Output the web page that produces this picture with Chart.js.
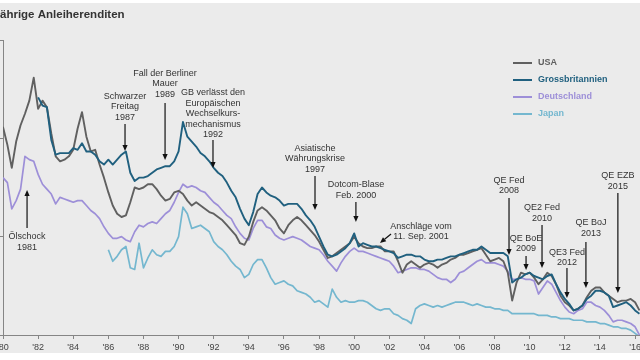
<!DOCTYPE html>
<html lang="de">
<head>
<meta charset="utf-8">
<title>Anleiherenditen</title>
<script src="https://cdn.jsdelivr.net/npm/chart.js@4.4.1/dist/chart.umd.min.js"></script>
<style>
  html, body { margin: 0; padding: 0; background: #fff; }
  canvas { display: block; }
</style>
</head>
<body>
<canvas id="yieldChart" width="640" height="360"></canvas>
<script>
// ============================================
// DATA
// ============================================

// quarterly readings, yields in percent
const STEP = 0.25;
const USA_START = 1980;
const UK_START = 1982;
const GERMANY_START = 1980;
const JAPAN_START = 1986;

const X_TICKS = [1980, 1982, 1984, 1986, 1988, 1990, 1992, 1994, 1996, 1998,
  2000, 2002, 2004, 2006, 2008, 2010, 2012, 2014, 2016];
const Y_TICKS = [0, 6, 12, 18];

const usaYields = [
  12.7, 11.6, 10.2, 11.8, 12.8, 13.5, 14.3, 15.7, 13.8, 14.3,
  13.9, 12.3, 10.9, 10.6, 10.7, 10.9, 11.3, 12.6, 13.6, 12.1,
  11.2, 11.3, 10.4, 9.6, 8.7, 7.9, 7.4, 7.2, 7.3, 8.1,
  9.0, 8.9, 9.0, 9.2, 9.2, 8.9, 8.5, 8.2, 8.3, 8.7,
  8.8, 8.6, 8.2, 7.9, 8.1, 7.9, 7.7, 7.5, 7.4, 7.2,
  7.0, 6.7, 6.4, 6.1, 5.6, 5.5, 6.0, 6.9, 7.6, 7.8,
  7.6, 7.3, 7.0, 6.5, 6.2, 6.7, 7.0, 7.2, 7.0, 6.7,
  6.4, 6.1, 5.7, 5.2, 4.7, 4.8, 5.0, 5.2, 5.4, 5.6,
  6.0, 5.6, 5.4, 5.3, 5.3, 5.4, 5.4, 5.1, 5.1, 5.1,
  4.5, 3.8, 4.3, 4.5, 4.3, 4.1, 4.3, 4.4, 4.3, 4.1,
  4.3, 4.4, 4.6, 4.7, 4.9, 4.9, 5.0, 5.1, 5.2, 5.3,
  4.9, 4.5, 4.6, 4.7, 4.5, 3.8, 2.1, 3.2, 3.8, 3.7,
  3.8, 3.5, 3.1, 3.4, 3.8, 3.6, 3.1, 2.4, 2.0, 1.8,
  1.5, 1.6, 1.8, 2.3, 2.7, 2.9, 2.9, 2.6, 2.4, 2.2,
  2.0, 2.1, 2.1, 2.2, 2.0, 1.5,
];

const ukYields = [
  14.5, 14.0, 13.9, 11.9, 11.0, 11.1, 11.1, 11.1, 11.4, 11.3,
  11.7, 11.2, 11.2, 11.0, 10.6, 10.4, 10.7, 10.4, 10.7, 11.0,
  11.2, 9.9, 9.4, 9.6, 9.6, 9.7, 9.9, 10.1, 10.2, 10.3,
  10.3, 10.6, 11.2, 13.0, 12.1, 11.8, 11.5, 11.1, 10.9, 10.6,
  10.2, 9.9, 9.7, 9.3, 8.8, 8.4, 7.7, 7.1, 6.7, 7.5,
  8.6, 9.0, 8.7, 8.5, 8.4, 8.2, 7.9, 8.0, 8.0, 8.0,
  7.7, 7.3, 7.0, 6.6, 6.0, 5.4, 4.9, 4.8, 4.9, 5.1,
  5.3, 5.6, 6.2, 5.4, 5.6, 5.5, 5.4, 5.4, 5.3, 5.2,
  5.1, 5.0, 4.7, 4.8, 4.9, 4.9, 4.8, 4.8, 4.6, 4.5,
  4.5, 4.6, 4.6, 4.7, 4.8, 4.8, 4.9, 5.0, 5.1, 5.2,
  5.2, 5.4, 5.2, 5.0, 5.0, 5.0, 5.0, 4.8, 3.2, 3.4,
  3.5, 3.7, 3.8, 3.6, 3.5, 3.4, 3.6, 3.7, 3.1, 2.6,
  2.2, 1.9, 1.5, 1.6, 1.8, 2.2, 2.4, 2.7, 2.7, 2.6,
  2.4, 1.7, 1.8, 1.9, 2.0, 1.8, 1.5, 1.3,
];

const germanyYields = [
  9.6, 9.3, 7.7, 8.2, 8.9, 10.9, 10.7, 10.6, 9.8, 9.2,
  8.9, 8.6, 8.0, 8.4, 8.3, 8.2, 8.1, 8.2, 8.2, 7.9,
  7.6, 7.4, 7.1, 6.6, 6.2, 5.9, 5.9, 6.0, 5.8, 5.7,
  6.3, 6.7, 6.6, 6.8, 6.9, 6.8, 7.1, 7.4, 7.6, 8.1,
  8.7, 9.2, 9.0, 9.1, 9.0, 8.8, 8.7, 8.4, 8.1, 7.9,
  7.6, 7.3, 7.1, 6.6, 6.2, 5.9, 5.8, 6.5, 7.0, 7.0,
  6.6, 6.5, 6.1, 5.9, 5.8, 5.9, 6.0, 5.9, 5.8, 5.6,
  5.4, 5.3, 5.2, 4.9, 4.5, 4.2, 3.9, 4.4, 4.8, 5.1,
  5.3, 5.1, 5.1, 5.0, 4.9, 4.8, 4.7, 4.6, 4.5, 4.2,
  3.8, 3.9, 4.0, 4.1, 4.1, 4.0, 4.0, 3.9, 3.7, 3.5,
  3.4, 3.4, 3.2, 3.4, 3.8, 3.9, 4.1, 4.3, 4.5, 4.6,
  4.4, 4.4, 4.4, 4.3, 4.2, 3.9, 3.4, 3.4, 3.5, 3.4,
  3.4, 3.3, 2.5, 2.9, 3.3, 3.1, 2.6, 2.1, 1.7, 1.4,
  1.3, 1.5, 1.6, 2.0, 2.0, 1.8, 1.7, 1.5, 1.2, 0.8,
  0.9, 0.9, 0.8, 0.7, 0.5, 0.0,
];

const japanYields = [
  5.2, 4.5, 4.8, 5.2, 5.4, 4.1, 4.0, 5.6, 4.1, 4.7,
  5.2, 4.9, 4.8, 5.1, 5.1, 5.4, 6.0, 7.8, 7.4, 6.5,
  6.6, 6.7, 6.5, 6.3, 5.7, 5.4, 5.2, 4.9, 4.5, 4.2,
  4.0, 3.5, 3.7, 4.3, 4.6, 4.6, 4.1, 3.5, 3.1, 3.2,
  3.3, 3.1, 3.0, 2.7, 2.6, 2.5, 2.3, 2.0, 2.1, 1.9,
  1.7, 2.8, 2.3, 2.0, 2.1, 2.0, 2.0, 2.1, 2.1, 2.0,
  1.8, 1.6, 1.5, 1.6, 1.6, 1.3, 1.2, 1.0, 0.9, 0.7,
  1.6, 1.8, 1.9, 1.8, 1.7, 1.8, 1.7, 1.8, 1.9, 2.0,
  2.0, 2.0, 1.9, 1.8, 1.9, 1.8, 1.7, 1.7, 1.6, 1.6,
  1.5, 1.5, 1.3, 1.3, 1.3, 1.3, 1.3, 1.3, 1.2, 1.2,
  1.2, 1.1, 1.1, 1.0, 1.0, 1.0, 0.9, 0.9, 0.9, 0.8,
  0.8, 0.8, 0.7, 0.7, 0.6, 0.5, 0.5, 0.4, 0.4, 0.3,
  0.1, -0.1,
];

// event markers: arrow from value `from` down (or up) to value `to`
const EVENTS = [
  { lines: ['Ölschock', '1981'], year: 1981.37, from: 6.53, to: 8.85, below: true },
  { lines: ['Schwarzer', 'Freitag', '1987'], year: 1986.95, from: 12.87, to: 11.22 },
  { lines: ['Fall der Berliner', 'Mauer', '1989'], year: 1989.23, from: 14.15, to: 10.68, gap: 9 },
  { lines: ['GB verlässt den', 'Europäischen', 'Wechselkurs-', 'mechanismus', '1992'], year: 1991.96, from: 11.9, to: 10.19, gap: 5 },
  { lines: ['Asiatische', 'Währungskrise', '1997'], year: 1997.77, from: 9.7, to: 7.63 },
  { lines: ['Dotcom-Blase', 'Feb. 2000'], year: 2000.1, from: 8.11, to: 6.89 },
  { lines: ['Anschläge vom', '11. Sep. 2001'], year: 2002.1, toYear: 2001.47, from: 6.16, to: 5.61, side: true },
  { lines: ['QE Fed', '2008'], year: 2008.82, from: 8.36, to: 4.88 },
  { lines: ['QE BoE', '2009'], year: 2009.79, from: 4.82, to: 3.97 },
  { lines: ['QE2 Fed', '2010'], year: 2010.7, from: 6.71, to: 4.09 },
  { lines: ['QE3 Fed', '2012'], year: 2012.12, from: 4.09, to: 2.26, gap: 5 },
  { lines: ['QE BoJ', '2013'], year: 2013.2, from: 5.67, to: 2.87, shift: 5, gap: 9 },
  { lines: ['QE EZB', '2015'], year: 2015.02, from: 8.66, to: 2.56 },
];

const SERIES = [
  { label: 'USA', start: USA_START, values: usaYields, color: '#606060' },
  { label: 'Grossbritannien', start: UK_START, values: ukYields, color: '#20607f' },
  { label: 'Deutschland', start: GERMANY_START, values: germanyYields, color: '#9d8fd8' },
  { label: 'Japan', start: JAPAN_START, values: japanYields, color: '#74b7cf' },
];

// ============================================
// HELPERS
// ============================================

const FONT = "'Liberation Sans', Arial, sans-serif";

function toPoints(start, values) {
  return values.map((v, i) => ({ x: start + i * STEP, y: v }));
}

function drawArrow(ctx, x1, y1, x2, y2) {
  const a = Math.atan2(y2 - y1, x2 - x1);
  const head = 6;
  const half = 2.6;
  const bx = x2 - Math.cos(a) * head;
  const by = y2 - Math.sin(a) * head;
  ctx.beginPath();
  ctx.moveTo(x1, y1);
  ctx.lineTo(bx, by);
  ctx.stroke();
  ctx.beginPath();
  ctx.moveTo(x2, y2);
  ctx.lineTo(bx + Math.sin(a) * half, by - Math.cos(a) * half);
  ctx.lineTo(bx - Math.sin(a) * half, by + Math.cos(a) * half);
  ctx.closePath();
  ctx.fill();
}

// ============================================
// PLUGINS
// ============================================

const backgroundPlugin = {
  id: 'background',
  beforeDraw(chart) {
    const ctx = chart.ctx;
    ctx.save();
    ctx.fillStyle = '#ffffff';
    ctx.fillRect(0, 0, chart.width, chart.height);
    ctx.fillStyle = '#ebebeb';
    ctx.fillRect(0, 3, chart.width, 350);
    ctx.fillStyle = '#333333';
    ctx.font = 'bold 11.5px ' + FONT;
    ctx.textBaseline = 'middle';
    ctx.textAlign = 'left';
    ctx.fillText('ährige Anleiherenditen', 0, 15);
    ctx.restore();
  },
};

const eventsPlugin = {
  id: 'events',
  afterDatasetsDraw(chart) {
    const ctx = chart.ctx;
    const xs = chart.scales.x;
    const ys = chart.scales.y;
    const lineHeight = 10.5;
    ctx.save();
    ctx.font = '9px ' + FONT;
    ctx.textAlign = 'center';
    ctx.textBaseline = 'middle';
    ctx.strokeStyle = '#111111';
    ctx.fillStyle = '#111111';
    ctx.lineWidth = 1.2;
    EVENTS.forEach((ev) => {
      const x1 = xs.getPixelForValue(ev.year);
      const y1 = ys.getPixelForValue(ev.from);
      const x2 = xs.getPixelForValue(ev.toYear !== undefined ? ev.toYear : ev.year);
      const y2 = ys.getPixelForValue(ev.to);
      drawArrow(ctx, x1, y1, x2, y2);

      let tx = x1 + (ev.shift || 0);
      let ty;
      if (ev.below) {
        ty = y1 + 9;
      } else if (ev.side) {
        tx = x1 + 30;
        ty = y1 - 8;
      } else {
        ty = y1 - (ev.gap || 7) - (ev.lines.length - 1) * lineHeight;
      }
      ctx.save();
      ctx.fillStyle = '#333333';
      ev.lines.forEach((line, i) => {
        ctx.fillText(line, tx, ty + i * lineHeight);
      });
      ctx.restore();
    });
    ctx.restore();
  },
};

const legendPlugin = {
  id: 'customLegend',
  afterDraw(chart) {
    const ctx = chart.ctx;
    ctx.save();
    ctx.font = 'bold 9px ' + FONT;
    ctx.textBaseline = 'middle';
    ctx.textAlign = 'left';
    SERIES.forEach((s, i) => {
      const y = 63 + i * 17;
      ctx.strokeStyle = s.color;
      ctx.lineWidth = 2;
      ctx.beginPath();
      ctx.moveTo(513, y);
      ctx.lineTo(532, y);
      ctx.stroke();
      ctx.fillStyle = s.color;
      ctx.fillText(s.label, 538, y);
    });
    ctx.restore();
  },
};

// ============================================
// CHART
// ============================================

function buildDatasets() {
  // UK drawn on top, Japan at the bottom
  const drawOrder = ['Grossbritannien', 'USA', 'Deutschland', 'Japan'];
  return drawOrder.map((name) => {
    const s = SERIES.find((item) => item.label === name);
    return {
      label: s.label,
      data: toPoints(s.start, s.values),
      borderColor: s.color,
      borderWidth: name === 'Japan' || name === 'Deutschland' ? 1.7 : 1.9,
      borderJoinStyle: 'round',
      pointRadius: 0,
      pointHoverRadius: 0,
      tension: 0,
      fill: false,
    };
  });
}

window.addEventListener('load', function () {
  const axisColor = '#858585';
  const ctx = document.getElementById('yieldChart').getContext('2d');

  new Chart(ctx, {
    type: 'line',
    data: { datasets: buildDatasets() },
    options: {
      responsive: false,
      animation: false,
      layout: { autoPadding: false, padding: { top: 40, left: 0, right: 0, bottom: 0 } },
      plugins: {
        legend: { display: false },
        title: { display: false },
        tooltip: { enabled: false },
      },
      scales: {
        x: {
          type: 'linear',
          min: 1980,
          max: 2016.28,
          afterBuildTicks: (scale) => {
            scale.ticks = X_TICKS.map((v) => ({ value: v }));
          },
          afterFit: (scale) => {
            // let the first and last labels run off the canvas edge
            scale.height = 25;
            scale.paddingLeft = 0;
            scale.paddingRight = 0;
          },
          ticks: {
            autoSkip: false,
            maxRotation: 0,
            padding: 3,
            color: '#444444',
            font: { family: FONT, size: 9 },
            callback: (value) => "'" + String(value).slice(2),
          },
          grid: {
            display: true,
            drawOnChartArea: false,
            drawTicks: true,
            tickLength: 4,
            color: axisColor,
          },
          border: { display: true, color: axisColor, width: 1 },
        },
        y: {
          min: 0,
          max: 18,
          afterBuildTicks: (scale) => {
            scale.ticks = Y_TICKS.map((v) => ({ value: v }));
          },
          afterFit: (scale) => {
            scale.width = 3;
            scale.paddingTop = 0;
            scale.paddingBottom = 0;
          },
          ticks: { display: false },
          grid: {
            display: true,
            drawOnChartArea: false,
            drawTicks: true,
            tickLength: 3,
            color: axisColor,
          },
          border: { display: true, color: axisColor, width: 1 },
        },
      },
    },
    plugins: [backgroundPlugin, eventsPlugin, legendPlugin],
  });
});
</script>
</body>
</html>
